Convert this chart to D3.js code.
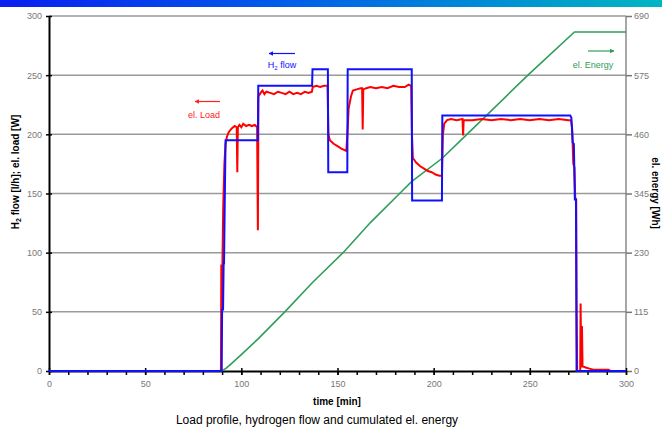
<!DOCTYPE html>
<html>
<head>
<meta charset="utf-8">
<script src="https://cdn.jsdelivr.net/npm/d3@7"></script>
<style>
  body { margin: 0; background: #fff; }
  svg { display: block; font-family: "Liberation Sans", Arial, sans-serif; }
</style>
</head>
<body>
<div id="chart"></div>
<script>
// Data
const flowTime = [0, 89.8, 90.0, 90.5, 90.8, 91.0, 91.4, 91.8, 108.6, 108.8, 136.8, 137.0, 145.0, 145.2, 155.1, 155.3, 188.6, 188.8, 204.3, 204.5, 271.0, 271.6, 272.3, 272.9, 273.4, 274.0, 274.3, 300];
const flowValue = [0, 0, 52, 52, 91, 91, 145, 195, 195, 241, 241, 255, 255, 168, 168, 255, 255, 144, 144, 216, 216, 214, 193, 192, 145, 145, 0, 0];

const loadTime = [0, 89.4, 89.6, 89.8, 90.2, 90.6, 91.2, 91.8, 92.5, 93.5, 95, 96.5, 97.6, 97.9, 98.2, 99, 100, 101, 102.5, 104, 105.5, 107, 108.2, 108.6, 108.9, 110, 111, 112, 113, 115, 117, 119, 121, 123, 125, 127, 129, 131, 133, 135, 136.7, 137.1, 139, 141, 143, 144.8, 145.3, 146, 148, 150, 152, 154.6, 155.3, 155.8, 157, 158, 160, 162, 162.8, 163.1, 163.4, 165, 167, 170, 173, 176, 179, 182, 185, 187, 188.3, 188.7, 189.2, 191, 193, 195, 197, 199, 201, 203, 204.3, 204.8, 205.5, 207, 209, 212, 215, 215.3, 215.6, 220, 225, 230, 235, 240, 245, 250, 255, 260, 265, 270, 271.4, 272, 272.6, 273.2, 273.6, 274.1, 274.3, 274.6, 276.2, 276.4, 276.7, 277.1, 277.4, 279, 281, 283, 287, 291, 292, 300];
const loadValue = [0, 0, 90, 40, 95, 140, 175, 192, 198, 202, 205, 207, 206, 168, 206, 208, 206, 209, 207, 208, 207, 208, 206, 119, 232, 235, 237, 234, 236, 235, 234, 236, 235, 234, 236, 234, 235, 234, 236, 235, 236, 240, 241, 240, 241, 241, 200, 195, 192, 190, 188, 186, 205, 222, 232, 237, 238, 239, 239, 204, 238, 239, 240, 239, 240, 239, 241, 240, 240, 242, 241, 200, 180, 176, 173, 171, 169, 168, 166, 165, 165, 200, 209, 212, 213, 212, 213, 199, 212, 212, 213, 212, 213, 212, 213, 212, 213, 212, 213, 212, 212, 205, 175, 172, 146, 145, 57, 0, 0, 57, 3, 38, 4, 3, 2, 1, 1, 1, 0, 0];

const energyTime = [0, 89.7, 92, 95, 100, 108.6, 122.6, 137, 152.9, 167, 182.3, 188.5, 204.3, 217.3, 249, 273.2, 300];
const energyValue = [0, 0, 5, 15, 32, 62, 115, 172, 230, 288, 345, 368, 413, 460, 575, 659, 659];

const xTicks = [0, 50, 100, 150, 200, 250, 300];
const leftTicks = [0, 50, 100, 150, 200, 250, 300];
const rightTicks = [0, 115, 230, 345, 460, 575, 690];

const w = 662;
const h = 428;

const svg = d3.select("#chart").append("svg").attr("width", w).attr("height", h);

// top banner
const grad = svg.append("defs").append("linearGradient").attr("id", "banner");
grad.append("stop").attr("offset", "0%").attr("stop-color", "#0a1ef0");
grad.append("stop").attr("offset", "45%").attr("stop-color", "#0060e8");
grad.append("stop").attr("offset", "100%").attr("stop-color", "#00b6c2");
svg.append("rect").attr("x", 0).attr("y", 0).attr("width", w).attr("height", 7).attr("fill", "url(#banner)");

// scales
const x = d3.scaleLinear().domain([0, 300]).range([49, 626]);
const y = d3.scaleLinear().domain([0, 300]).range([371, 16]);
const y2 = d3.scaleLinear().domain([0, 690]).range([371, 16]);

// gridlines
svg.append("g")
  .selectAll("line")
  .data(leftTicks.slice(1))
  .enter()
  .append("line")
  .attr("x1", x(0))
  .attr("x2", x(300))
  .attr("y1", (d) => y(d))
  .attr("y2", (d) => y(d))
  .attr("stroke", "#9a9a9a")
  .attr("stroke-width", 1.5);

// right border
svg.append("line")
  .attr("x1", x(300)).attr("x2", x(300))
  .attr("y1", y(0)).attr("y2", y(300))
  .attr("stroke", "#8a8a8a").attr("stroke-width", 1.5);

// right axis
const rightAxis = svg.append("g")
  .attr("transform", "translate(" + x(300) + ",0)")
  .call(d3.axisRight(y2).tickValues(rightTicks).tickSize(6).tickPadding(2));
rightAxis.select(".domain").remove();
rightAxis.selectAll("line").attr("stroke", "#777").attr("stroke-width", 1.5);
rightAxis.selectAll("text").attr("fill", "#777").style("font-size", "9px");

// left axis
const leftAxis = svg.append("g")
  .attr("transform", "translate(" + x(0) + ",0)")
  .call(d3.axisLeft(y).tickValues(leftTicks).tickSize(3).tickPadding(4).tickSizeOuter(0));
leftAxis.select(".domain").attr("stroke", "#000").attr("stroke-width", 2);
leftAxis.selectAll(".tick line").attr("x2", 3).attr("x1", -3).attr("stroke", "#000").attr("stroke-width", 1.5);
leftAxis.selectAll("text").attr("fill", "#777").style("font-size", "9px");

// bottom axis: minor ticks every 10
const minor = svg.append("g")
  .attr("transform", "translate(0," + y(0) + ")")
  .call(d3.axisBottom(x).ticks(30).tickSize(4).tickFormat(""));
minor.select(".domain").remove();
minor.selectAll("line").attr("stroke", "#000").attr("stroke-width", 1.5);

const bottomAxis = svg.append("g")
  .attr("transform", "translate(0," + y(0) + ")")
  .call(d3.axisBottom(x).tickValues(xTicks).tickSize(4).tickPadding(6).tickSizeOuter(0));
bottomAxis.select(".domain").attr("stroke", "#000").attr("stroke-width", 2);
bottomAxis.selectAll(".tick line").attr("y1", -3).attr("stroke", "#000").attr("stroke-width", 1.5);
bottomAxis.selectAll("text").attr("fill", "#777").style("font-size", "9px");

// lines
const line = (times, scaleY) => d3.line()
  .x((d, i) => x(times[i]))
  .y((d) => scaleY(d));

svg.append("path")
  .datum(energyValue)
  .attr("d", line(energyTime, y2))
  .attr("fill", "none")
  .attr("stroke", "#2f9e5b")
  .attr("stroke-width", 1.6);

svg.append("path")
  .datum(loadValue)
  .attr("d", line(loadTime, y))
  .attr("fill", "none")
  .attr("stroke", "#ff0000")
  .attr("stroke-width", 2);

svg.append("path")
  .datum(flowValue)
  .attr("d", line(flowTime, y))
  .attr("fill", "none")
  .attr("stroke", "#1010ff")
  .attr("stroke-width", 2);

// annotations
const arrow = (x1, x2, yy, color, id) => {
  svg.append("defs").append("marker")
    .attr("id", id)
    .attr("viewBox", "0 0 10 10")
    .attr("refX", 9).attr("refY", 5)
    .attr("markerWidth", 4).attr("markerHeight", 4)
    .attr("orient", "auto")
    .append("path").attr("d", "M0,0 L10,5 L0,10 z").attr("fill", color);
  svg.append("line")
    .attr("x1", x1).attr("x2", x2).attr("y1", yy).attr("y2", yy)
    .attr("stroke", color).attr("stroke-width", 1.2)
    .attr("marker-end", "url(#" + id + ")");
};

arrow(295, 269, 53.5, "#1010ff", "ab");
const h2 = svg.append("text").attr("x", 282).attr("y", 68).attr("text-anchor", "middle")
  .attr("fill", "#1010ff").style("font-size", "9px");
h2.append("tspan").text("H");
h2.append("tspan").text("2").style("font-size", "6px").attr("dy", 2);
h2.append("tspan").text(" flow").attr("dy", -2);

arrow(220, 195, 101.5, "#ff2020", "ar");
svg.append("text").attr("x", 204).attr("y", 118).attr("text-anchor", "middle")
  .attr("fill", "#ff2020").style("font-size", "9px").text("el. Load");

arrow(588, 614, 51, "#2f9e5b", "ag");
svg.append("text").attr("x", 593).attr("y", 68).attr("text-anchor", "middle")
  .attr("fill", "#2f9e5b").style("font-size", "9px").text("el. Energy");

// axis titles
const yl = svg.append("text")
  .attr("transform", "translate(19,172) rotate(-90)")
  .attr("text-anchor", "middle")
  .style("font-size", "10px").style("font-weight", "bold");
yl.append("tspan").text("H");
yl.append("tspan").text("2").style("font-size", "7px").attr("dy", 2);
yl.append("tspan").text(" flow [l/h]; el. load [W]").attr("dy", -2);

svg.append("text")
  .attr("transform", "translate(652,193) rotate(90)")
  .attr("text-anchor", "middle")
  .style("font-size", "10px").style("font-weight", "bold")
  .text("el. energy [Wh]");

svg.append("text")
  .attr("x", 337).attr("y", 405)
  .attr("text-anchor", "middle")
  .style("font-size", "10px").style("font-weight", "bold")
  .text("time [min]");

svg.append("text")
  .attr("x", 317).attr("y", 424)
  .attr("text-anchor", "middle")
  .style("font-size", "12px")
  .text("Load profile, hydrogen flow and cumulated el. energy");
</script>
</body>
</html>
